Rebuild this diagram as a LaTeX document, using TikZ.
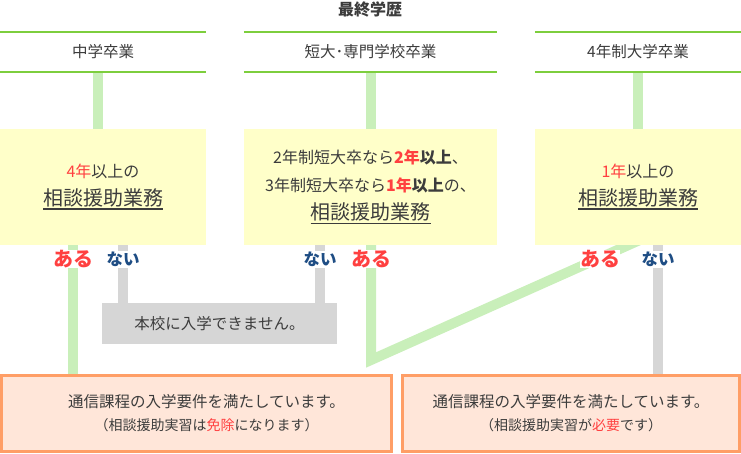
\documentclass[tikz,border=0pt]{standalone}
\usepackage{fontspec}
\setmainfont{Noto Sans CJK JP}
\usepackage{xcolor}
\usetikzlibrary{positioning,backgrounds}

\definecolor{txt}{HTML}{3C3C3C}
\definecolor{hdgreen}{HTML}{7DCE3D}
\definecolor{bargreen}{HTML}{C9EFBA}
\definecolor{bargray}{HTML}{D6D6D6}
\definecolor{condyellow}{HTML}{FFFFC9}
\definecolor{okborder}{HTML}{FF9E66}
\definecolor{okfill}{HTML}{FFE6D9}
\definecolor{hlred}{HTML}{FF4040}
\definecolor{navy}{HTML}{1E4D84}

\newcommand\hl[1]{\textcolor{hlred}{#1}}
\newcommand\ulword[1]{\setbox0=\hbox{#1}\rlap{\copy0}\rule[-4pt]{\wd0}{1.3pt}}

\tikzset{
  title/.style={text=txt,font=\fontsize{16}{18}\selectfont\bfseries},
  head/.style={minimum height=40pt,inner sep=0pt,text=txt,font=\fontsize{15.5}{18}\selectfont},
  hdline/.style={hdgreen,line width=1.5pt},
  cond/.style={fill=condyellow,minimum height=116pt,inner sep=0pt,align=center,text=txt,
    font=\fontsize{16}{28}\selectfont},
  aru/.style={fill=white,inner sep=0pt,minimum height=17pt,text=hlred,
    font=\fontsize{20}{20}\selectfont\bfseries},
  nai/.style={fill=white,inner sep=0pt,minimum height=17pt,text=navy,
    font=\fontsize{16.5}{16}\selectfont\bfseries},
  ngbox/.style={fill=bargray,minimum width=235pt,minimum height=41pt,inner sep=0pt,
    text=txt,font=\fontsize{15.5}{18}\selectfont},
  okbox/.style={draw=okborder,fill=okfill,line width=3pt,minimum height=76pt,inner sep=0pt},
  oktext/.style={align=center,text=txt,font=\fontsize{15.5}{23}\selectfont},
  gbar/.style={bargreen,line width=10pt},
  nbar/.style={bargray,line width=10pt}
}

\begin{document}
\begin{tikzpicture}[x=1pt,y=-1pt]
\useasboundingbox (0,0) rectangle (741,453);

% headings
\node[title] (title) at (370,9) {最終学歴};
\node[head,minimum width=206pt] (hd1) at (103,52) {中学卒業};
\node[head,minimum width=253pt] (hd2) at (370.5,52) {短大･専門学校卒業};
\node[head,minimum width=206pt] (hd3) at (638,52) {4年制大学卒業};
\foreach \n in {hd1,hd2,hd3}
  \draw[hdline] (\n.north west) -- (\n.north east) (\n.south west) -- (\n.south east);

% conditions
\node[cond,minimum width=206pt] (req1) at (103,187)
  {\hl{4年}以上の\\{\fontsize{20}{20}\selectfont\ulword{相談援助業務}}};
\node[cond,minimum width=253pt] (req2) at (370.5,187)
  {2年制短大卒なら\textbf{\hl{2年}以上}、\\3年制短大卒なら\textbf{\hl{1年}以上}の、\\
   {\fontsize{20}{20}\selectfont\ulword{相談援助業務}}};
\node[cond,minimum width=206pt] (req3) at (638,187)
  {\hl{1年}以上の\\{\fontsize{20}{20}\selectfont\ulword{相談援助業務}}};

% yes / no
\node[aru] (aru1) at (73,259) {ある};
\node[nai] (nai1) at (123,259) {ない};
\node[nai] (nai2) at (320,259) {ない};
\node[aru] (aru2) at (371,259) {ある};
\node[aru] (aru3) at (600,259) {ある};
\node[nai] (nai3) at (658,259) {ない};

% results
\node[ngbox] (ng) at (219.5,323.5) {本校に入学できません。};
\node[okbox,minimum width=390pt] (ok1) at (196.5,413.5) {};
\node[oktext,xshift=10pt] (ok1txt) at (ok1) {通信課程の入学要件を満たしています。\\
  {\fontsize{14}{14}\selectfont （相談援助実習は\hl{免除}になります）}};
\node[okbox,minimum width=337pt] (ok2) at (571,413.5) {};
\node[oktext] (ok2txt) at (ok2) {通信課程の入学要件を満たしています。\\
  {\fontsize{14}{14}\selectfont （相談援助実習が\hl{必要}です）}};

\coordinate (join) at (371,360);
\coordinate (top3) at (651,235);

\begin{scope}[on background layer]
  \draw[gbar] ([xshift=-5pt]hd1.south) -- ([xshift=-5pt]req1.north);
  \draw[gbar] (hd2.south) -- (req2.north);
  \draw[gbar] (hd3.south) -- (req3.north);
  \draw[gbar] (req1.south -| aru1) -- (ok1.north -| aru1);
  \draw[nbar] (req1.south -| nai1) -- (ng.north -| nai1);
  \draw[nbar] (req2.south -| nai2) -- (ng.north -| nai2);
  \draw[gbar,line join=miter] (req2.south -| aru2) -- (join) -- (top3);
  \draw[nbar] (req3.south -| nai3) -- (ok2.north -| nai3);
\end{scope}
\end{tikzpicture}
\end{document}
